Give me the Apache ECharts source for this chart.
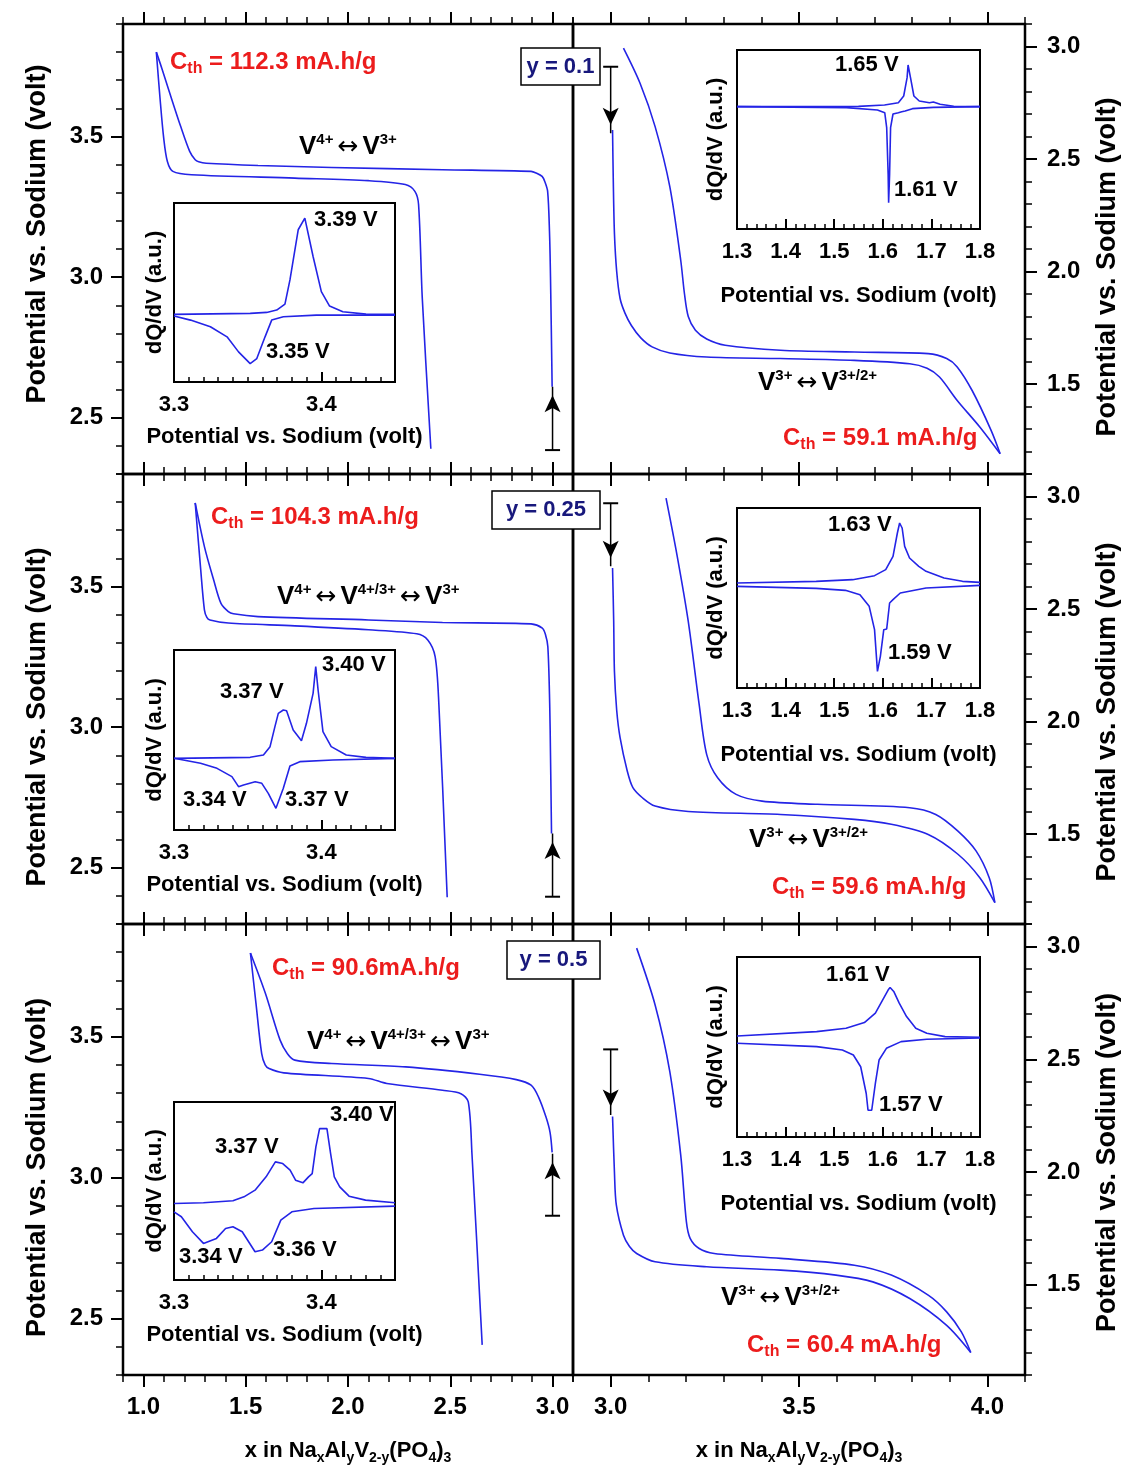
<!DOCTYPE html>
<html>
<head>
<meta charset="utf-8">
<script src="https://cdn.jsdelivr.net/npm/echarts@6.0.0/dist/echarts.min.js"></script>
<style>
  html, body { margin: 0; padding: 0; background: #fff; }
  #main { width: 1135px; height: 1471px; }
</style>
</head>
<body>
<div id="main"></div>
<script>
const FONT = '"Liberation Sans", Arial, Helvetica, sans-serif'
const BLUE = '#2424e6'
const RED = '#ec1c1c'
const NAVY = '#18187c'

// tick values
const highXTicks = [1.0, 1.5, 2.0, 2.5, 3.0]
const lowXTicks = [3.0, 3.5, 4.0]
const highVTicks = [2.5, 3.0, 3.5]
const lowVTicks = [1.5, 2.0, 2.5, 3.0]
const insetHighTicks = [3.3, 3.4]
const insetLowTicks = [1.3, 1.4, 1.5, 1.6, 1.7, 1.8]

// ---- y = 0.1 ----
const y01HighCharge = [[2.998, 2.61], [2.99, 3.0], [2.985, 3.163], [2.976, 3.305], [2.962, 3.34], [2.949, 3.358], [2.92, 3.37], [2.895, 3.376], [2.462, 3.382], [1.92, 3.39], [1.56, 3.397], [1.307, 3.405], [1.27, 3.41], [1.253, 3.417], [1.226, 3.447], [1.18, 3.54], [1.126, 3.66], [1.09, 3.742], [1.063, 3.80]]
const y01HighDischarge = [[1.063, 3.80], [1.081, 3.636], [1.099, 3.494], [1.117, 3.411], [1.144, 3.376], [1.235, 3.364], [1.74, 3.352], [2.10, 3.343], [2.28, 3.329], [2.327, 3.305], [2.345, 3.258], [2.363, 2.927], [2.405, 2.39]]
const y01LowDischarge = [[3.005, 2.629], [3.007, 2.4], [3.01, 2.17], [3.016, 2.0], [3.025, 1.88], [3.038, 1.815], [3.055, 1.76], [3.08, 1.705], [3.11, 1.665], [3.157, 1.638], [3.255, 1.62], [3.45, 1.613], [3.647, 1.605], [3.794, 1.59], [3.84, 1.57], [3.873, 1.531], [3.92, 1.427], [3.98, 1.309], [4.034, 1.19]]
const y01LowCharge = [[4.034, 1.19], [4.01, 1.294], [3.96, 1.47], [3.92, 1.576], [3.892, 1.613], [3.843, 1.635], [3.647, 1.642], [3.451, 1.65], [3.304, 1.672], [3.255, 1.70], [3.225, 1.739], [3.206, 1.80], [3.196, 1.9], [3.186, 2.05], [3.157, 2.377], [3.118, 2.644], [3.078, 2.837], [3.034, 2.993]]
const y01HighArrow = [[3.0, 2.385], [3.0, 2.61]]
const y01LowArrow = [[3.0, 2.91], [3.0, 2.614]]
const y01InsetHighCharge = [[3.3, 0], [3.3517, 0.03], [3.3629, 0.06], [3.3697, 0.13], [3.3753, 0.31], [3.3787, 1.03], [3.3843, 2.53], [3.3888, 2.88], [3.3944, 1.73], [3.40, 0.68], [3.4056, 0.25], [3.4146, 0.08], [3.4303, 0.01], [3.45, 0]]
const y01InsetHighDischarge = [[3.3, -0.05], [3.3112, -0.17], [3.3247, -0.37], [3.336, -0.67], [3.3438, -1.12], [3.3517, -1.47], [3.3562, -1.32], [3.3618, -0.67], [3.3663, -0.17], [3.3742, -0.07], [3.3966, -0.02], [3.45, -0.02]]
const y01InsetLowCharge = [[1.3, 0], [1.55, 0.01], [1.6036, 0.05], [1.632, 0.12], [1.643, 0.32], [1.65, 0.87], [1.652, 1.25], [1.657, 0.87], [1.664, 0.32], [1.675, 0.17], [1.696, 0.12], [1.704, 0.14], [1.718, 0.07], [1.746, 0.01], [1.8, 0]]
const y01InsetLowDischarge = [[1.3, 0], [1.525, -0.03], [1.589, -0.1], [1.604, -0.18], [1.608, -0.63], [1.611, -2.03], [1.612, -2.88], [1.614, -2.03], [1.616, -0.63], [1.621, -0.22], [1.632, -0.18], [1.639, -0.15], [1.646, -0.13], [1.661, -0.06], [1.704, -0.02], [1.8, 0]]

// ---- y = 0.25 ----
const y025HighCharge = [[2.995, 2.622], [2.99, 2.9], [2.986, 3.085], [2.977, 3.286], [2.965, 3.33], [2.95, 3.352], [2.895, 3.367], [2.462, 3.372], [2.10, 3.381], [1.56, 3.393], [1.44, 3.403], [1.415, 3.411], [1.379, 3.44], [1.343, 3.524], [1.298, 3.642], [1.253, 3.797]]
const y025HighDischarge = [[1.253, 3.797], [1.28, 3.559], [1.298, 3.417], [1.31, 3.39], [1.325, 3.381], [1.415, 3.37], [1.74, 3.36], [2.10, 3.346], [2.336, 3.332], [2.39, 3.31], [2.426, 3.251], [2.444, 3.085], [2.485, 2.395]]
const y025LowDischarge = [[3.005, 2.682], [3.008, 2.45], [3.01, 2.223], [3.016, 2.05], [3.025, 1.928], [3.044, 1.78], [3.059, 1.706], [3.085, 1.66], [3.118, 1.624], [3.206, 1.60], [3.451, 1.587], [3.647, 1.565], [3.745, 1.543], [3.843, 1.498], [3.922, 1.41], [3.98, 1.306], [4.02, 1.195]]
const y025LowCharge = [[4.02, 1.195], [4.005, 1.306], [3.97, 1.425], [3.922, 1.513], [3.863, 1.587], [3.794, 1.617], [3.549, 1.632], [3.402, 1.646], [3.333, 1.676], [3.284, 1.75], [3.255, 1.853], [3.235, 2.075], [3.206, 2.445], [3.176, 2.741], [3.147, 2.993]]
const y025HighArrow = [[3.0, 2.397], [3.0, 2.622]]
const y025LowArrow = [[3.0, 2.97], [3.0, 2.69]]
const y025InsetHighCharge = [[3.3, 0], [3.3517, 0.03], [3.3607, 0.10], [3.3652, 0.35], [3.3685, 0.95], [3.3708, 1.35], [3.3742, 1.45], [3.3764, 1.43], [3.3809, 0.85], [3.3865, 0.53], [3.3899, 1.05], [3.3944, 1.95], [3.3962, 2.75], [3.3978, 2.05], [3.4011, 0.80], [3.4067, 0.35], [3.4169, 0.10], [3.4303, 0.03], [3.45, 0]]
const y025InsetHighDischarge = [[3.3, 0], [3.318, -0.15], [3.3292, -0.30], [3.3393, -0.55], [3.3438, -0.85], [3.3472, -0.80], [3.3551, -0.70], [3.3596, -0.75], [3.364, -1.05], [3.3692, -1.50], [3.3742, -0.90], [3.3787, -0.23], [3.3854, -0.10], [3.4079, -0.05], [3.45, 0]]
const y025InsetLowCharge = [[1.3, 0.05], [1.463, 0.10], [1.538, 0.15], [1.583, 0.27], [1.606, 0.45], [1.621, 0.85], [1.630, 1.55], [1.6346, 1.85], [1.6398, 1.70], [1.645, 1.15], [1.655, 0.80], [1.674, 0.55], [1.689, 0.40], [1.726, 0.20], [1.764, 0.10], [1.8, 0.07]]
const y025InsetLowDischarge = [[1.3, -0.05], [1.463, -0.11], [1.523, -0.17], [1.553, -0.30], [1.572, -0.65], [1.583, -1.35], [1.589, -2.60], [1.595, -2.15], [1.602, -1.35], [1.608, -1.33], [1.614, -0.55], [1.617, -0.50], [1.621, -0.45], [1.636, -0.25], [1.689, -0.10], [1.8, -0.02]]

// ---- y = 0.5 ----
const y05HighCharge = [[2.998, 3.09], [2.988, 3.16], [2.968, 3.215], [2.931, 3.287], [2.895, 3.328], [2.823, 3.348], [2.643, 3.367], [2.282, 3.393], [1.92, 3.405], [1.74, 3.417], [1.704, 3.44], [1.668, 3.488], [1.596, 3.654], [1.523, 3.797]]
const y05HighDischarge = [[1.523, 3.797], [1.55, 3.619], [1.578, 3.44], [1.595, 3.40], [1.614, 3.387], [1.686, 3.372], [2.10, 3.352], [2.19, 3.334], [2.462, 3.31], [2.552, 3.298], [2.588, 3.269], [2.606, 3.085], [2.656, 2.407]]
const y05LowDischarge = [[3.005, 2.246], [3.01, 2.0], [3.015, 1.854], [3.034, 1.72], [3.05, 1.67], [3.069, 1.639], [3.118, 1.602], [3.255, 1.58], [3.451, 1.565], [3.598, 1.543], [3.696, 1.513], [3.794, 1.439], [3.892, 1.32], [3.956, 1.20]]
const y05LowCharge = [[3.956, 1.20], [3.931, 1.291], [3.892, 1.38], [3.843, 1.454], [3.745, 1.543], [3.647, 1.587], [3.451, 1.617], [3.275, 1.639], [3.235, 1.661], [3.211, 1.706], [3.201, 1.78], [3.186, 2.075], [3.157, 2.445], [3.118, 2.741], [3.069, 2.993]]
const y05HighArrow = [[3.0, 2.865], [3.0, 3.085]]
const y05LowArrow = [[3.0, 2.544], [3.0, 2.253]]
const y05InsetHighCharge = [[3.3, 0.05], [3.32, 0.07], [3.34, 0.13], [3.3475, 0.25], [3.355, 0.45], [3.3625, 0.85], [3.3688, 1.30], [3.3738, 1.25], [3.3788, 1.05], [3.3825, 0.75], [3.3875, 0.67], [3.3913, 0.85], [3.3938, 0.95], [3.3963, 1.75], [3.3988, 2.30], [3.4038, 2.30], [3.4063, 1.55], [3.4088, 0.85], [3.4125, 0.55], [3.4188, 0.27], [3.43, 0.15], [3.45, 0.07]]
const y05InsetHighDischarge = [[3.3, -0.20], [3.305, -0.35], [3.3125, -0.80], [3.32, -1.15], [3.3288, -1.00], [3.335, -0.70], [3.34, -0.65], [3.3463, -0.80], [3.355, -1.40], [3.36, -1.35], [3.3663, -1.10], [3.3725, -0.45], [3.38, -0.20], [3.395, -0.10], [3.45, -0.03]]
const y05InsetLowCharge = [[1.3, 0.07], [1.4639, 0.20], [1.5243, 0.30], [1.5621, 0.47], [1.5847, 0.75], [1.5998, 1.15], [1.6112, 1.45], [1.615, 1.52], [1.6225, 1.40], [1.6338, 1.05], [1.6489, 0.65], [1.6678, 0.30], [1.6905, 0.15], [1.7282, 0.05], [1.8, 0.03]]
const y05InsetLowDischarge = [[1.3, -0.15], [1.4639, -0.25], [1.5168, -0.35], [1.5394, -0.50], [1.5545, -0.85], [1.5659, -1.65], [1.5696, -2.15], [1.5772, -2.15], [1.5847, -1.35], [1.5923, -0.65], [1.6074, -0.30], [1.6376, -0.10], [1.6905, -0.03], [1.8, 0.01]]

// inset dQ/dV ranges (arbitrary units)
const insetHighRanges = [[-2.02, 3.33], [-2.15, 3.25], [-2.25, 3.10]]
const insetLowRanges = [[-3.67, 1.70], [-3.10, 2.30], [-2.95, 2.43]]

// annotation texts
const compositions = ['y = 0.1', 'y = 0.25', 'y = 0.5']
const capacities = [['112.3 mA.h/g', '59.1 mA.h/g'], ['104.3 mA.h/g', '59.6 mA.h/g'], ['90.6mA.h/g', '60.4 mA.h/g']]
const highRedox = [['4+', '3+'], ['4+', '4+/3+', '3+'], ['4+', '4+/3+', '3+']]
const lowRedox = ['3+', '3+/2+']
const peakTexts = [
  ['3.39 V', '3.35 V', '1.65 V', '1.61 V'],
  ['3.37 V', '3.40 V', '3.34 V', '3.37 V', '1.63 V', '1.59 V'],
  ['3.37 V', '3.40 V', '3.34 V', '3.36 V', '1.61 V', '1.57 V']
]

// ---- layout (pixels) ----
const rowTop = [24, 474, 924]
const rowH = [450, 450, 451]
const leftInsetTop = [203, 650, 1102]
const leftInsetH = [179, 180, 178]
const rightInsetTop = [50, 508, 957]
const rightInsetH = [179, 180, 180]
const nameShift = [[-15, 18], [18, 13], [18, 13]] // vertical shift of the big y names, px
const capacityPos = [[[170, 62], [783, 438]], [[211, 517], [772, 887]], [[272, 968], [747, 1345]]]
const highRedoxPos = [[299, 147], [277, 597], [307, 1042]]
const lowRedoxPos = [[758, 383], [749, 840], [721, 1298]]
const boxPos = [[521, 48, 79, 37], [492, 491, 108, 38], [507, 941, 93, 38]]
const peakPos = [
  [[314, 220], [266, 352], [835, 65], [894, 190]],
  [[220, 692], [322, 665], [183, 800], [285, 800], [828, 525], [888, 653]],
  [[215, 1147], [330, 1115], [179, 1257], [273, 1250], [826, 975], [879, 1105]]
]

const grid = []
const xAxis = []
const yAxis = []
const series = []
const graphic = []

const boldText = (size, extra) => Object.assign({ color: '#000', fontSize: size, fontWeight: 'bold', fontFamily: FONT }, extra || {})

function majorAxis (g, pos, min, max, ticks, o) {
  return {
    type: 'value', gridIndex: g, position: pos, min, max,
    axisLine: { show: false, onZero: false },
    splitLine: { show: false },
    axisTick: { show: true, inside: !!o.inside, length: o.len, customValues: ticks, lineStyle: { color: '#000', width: 2 } },
    axisLabel: Object.assign({ show: !!o.label, customValues: ticks, formatter: (v) => v.toFixed(1), margin: o.margin || 20 }, boldText(o.fontSize || 24))
  }
}

function minorAxis (g, pos, min, max, step, len, inside) {
  return {
    type: 'value', gridIndex: g, position: pos, min, max, interval: step,
    axisLine: { show: false, onZero: false },
    splitLine: { show: false },
    axisTick: { show: true, inside, length: len, lineStyle: { color: '#000', width: 1.5 } },
    axisLabel: { show: false }
  }
}

const xName = '{n|x in Na}{s|x}{n|Al}{s|y}{n|V}{s|2-y}{n|(PO}{s|4}{n|)}{s|3}'
const xNameRich = {
  n: { fontSize: 22, fontWeight: 'bold', fontFamily: FONT, color: '#000', lineHeight: 28, verticalAlign: 'middle' },
  s: { fontSize: 14, fontWeight: 'bold', fontFamily: FONT, color: '#000', lineHeight: 8, verticalAlign: 'bottom' }
}

function addLine (xi, yi, data, smooth) {
  series.push({
    type: 'line', xAxisIndex: xi, yAxisIndex: yi, data, smooth,
    showSymbol: false, symbol: 'none', silent: true,
    lineStyle: { color: BLUE, width: 1.6 }
  })
}

function addArrow (xi, yi, pts) {
  const up = pts[1][1] > pts[0][1]
  series.push({
    type: 'line', xAxisIndex: xi, yAxisIndex: yi, silent: true, showSymbol: true,
    lineStyle: { color: '#000', width: 1.5 },
    itemStyle: { color: '#000' },
    data: [
      { value: pts[0], symbol: 'rect', symbolSize: [15, 2] },
      { value: pts[1], symbol: 'arrow', symbolSize: [12, 17], symbolRotate: up ? 0 : 180, symbolOffset: [0, up ? '50%' : '-50%'] }
    ]
  })
}

// one of the six big panels; returns [xAxisIndex, yAxisIndex] for its curves
function addPanel (r, isHigh) {
  const g = grid.length
  grid.push({ left: isHigh ? 123 : 573, top: rowTop[r], width: isHigh ? 450 : 452, height: rowH[r], show: true, borderColor: '#000', borderWidth: 2.5 })
  const xr = isHigh ? [0.9, 3.1] : [2.9, 4.1]
  const yr = isHigh ? [2.3, 3.9] : [1.1, 3.1]
  const xi = xAxis.length
  const bottom = majorAxis(g, 'bottom', xr[0], xr[1], isHigh ? highXTicks : lowXTicks, { len: 12, label: r === 2, margin: 20 })
  if (r === 2) {
    Object.assign(bottom, { name: xName, nameLocation: 'middle', nameGap: 62, nameTextStyle: { rich: xNameRich } })
  }
  xAxis.push(bottom)
  xAxis.push(minorAxis(g, 'bottom', xr[0], xr[1], 0.1, 7, false))
  xAxis.push(majorAxis(g, 'top', xr[0], xr[1], isHigh ? highXTicks : lowXTicks, { len: 12 }))
  xAxis.push(minorAxis(g, 'top', xr[0], xr[1], 0.1, 7, false))
  const yi = yAxis.length
  const side = isHigh ? 'left' : 'right'
  const shift = nameShift[r][isHigh ? 0 : 1]
  const yMajor = majorAxis(g, side, yr[0], yr[1], isHigh ? highVTicks : lowVTicks, { len: 12, label: true, margin: isHigh ? 20 : 22 })
  Object.assign(yMajor, {
    name: 'Potential vs. Sodium (volt)', nameLocation: 'middle', nameRotate: 90,
    nameGap: isHigh ? 72 : 69,
    nameTextStyle: boldText(27, { padding: shift < 0 ? [0, 0, 0, -2 * shift] : [0, 2 * shift, 0, 0] })
  })
  yAxis.push(yMajor)
  yAxis.push(minorAxis(g, side, yr[0], yr[1], 0.1, 7, false))
  return [xi, yi]
}

function addInset (r, isHigh) {
  const g = grid.length
  grid.push({
    left: isHigh ? 174 : 737, top: isHigh ? leftInsetTop[r] : rightInsetTop[r],
    width: isHigh ? 221 : 243, height: isHigh ? leftInsetH[r] : rightInsetH[r],
    show: true, borderColor: '#000', borderWidth: 2, backgroundColor: '#fff'
  })
  const xr = isHigh ? [3.3, 3.45] : [1.3, 1.8]
  const yr = isHigh ? insetHighRanges[r] : insetLowRanges[r]
  const xi = xAxis.length
  const ax = majorAxis(g, 'bottom', xr[0], xr[1], isHigh ? insetHighTicks : insetLowTicks, { len: 10, inside: true, label: true, margin: 12, fontSize: 22 })
  Object.assign(ax, { name: 'Potential vs. Sodium (volt)', nameLocation: 'middle', nameGap: isHigh ? 44 : 56, nameTextStyle: boldText(22) })
  xAxis.push(ax)
  xAxis.push(minorAxis(g, 'bottom', xr[0], xr[1], isHigh ? 0.01 : 0.02, 5, true))
  const yi = yAxis.length
  yAxis.push({
    type: 'value', gridIndex: g, min: yr[0], max: yr[1], position: 'left',
    axisLine: { show: false, onZero: false }, axisTick: { show: false }, axisLabel: { show: false }, splitLine: { show: false },
    name: 'dQ/dV (a.u.)', nameLocation: 'middle', nameRotate: 90, nameGap: isHigh ? 8 : 10, nameTextStyle: boldText(22)
  })
  return [xi, yi]
}

const rowsData = [
  [y01HighCharge, y01HighDischarge, y01HighArrow, y01LowDischarge, y01LowCharge, y01LowArrow, y01InsetHighCharge, y01InsetHighDischarge, y01InsetLowCharge, y01InsetLowDischarge],
  [y025HighCharge, y025HighDischarge, y025HighArrow, y025LowDischarge, y025LowCharge, y025LowArrow, y025InsetHighCharge, y025InsetHighDischarge, y025InsetLowCharge, y025InsetLowDischarge],
  [y05HighCharge, y05HighDischarge, y05HighArrow, y05LowDischarge, y05LowCharge, y05LowArrow, y05InsetHighCharge, y05InsetHighDischarge, y05InsetLowCharge, y05InsetLowDischarge]
]

rowsData.forEach((d, r) => {
  const hi = addPanel(r, true)
  addLine(hi[0], hi[1], d[0], 0.3)
  addLine(hi[0], hi[1], d[1], 0.3)
  addArrow(hi[0], hi[1], d[2])
  const lo = addPanel(r, false)
  addLine(lo[0], lo[1], d[3], 0.3)
  addLine(lo[0], lo[1], d[4], 0.3)
  addArrow(lo[0], lo[1], d[5])
  const ih = addInset(r, true)
  addLine(ih[0], ih[1], d[6], false)
  addLine(ih[0], ih[1], d[7], false)
  const il = addInset(r, false)
  addLine(il[0], il[1], d[8], false)
  addLine(il[0], il[1], d[9], false)
})

// ---- text annotations ----
const capRich = {
  c: { fontSize: 24, fontWeight: 'bold', fontFamily: FONT, fill: RED, lineHeight: 30, verticalAlign: 'middle' },
  s: { fontSize: 16, fontWeight: 'bold', fontFamily: FONT, fill: RED, lineHeight: 6, verticalAlign: 'bottom' }
}
const redoxRich = {
  v: { fontSize: 26, fontWeight: 'bold', fontFamily: FONT, fill: '#000', lineHeight: 30, verticalAlign: 'middle' },
  p: { fontSize: 15, fontWeight: 'bold', fontFamily: FONT, fill: '#000', lineHeight: 14, verticalAlign: 'top' },
  a: { fontSize: 25, fontFamily: '"DejaVu Sans", sans-serif', fill: '#000', lineHeight: 30, verticalAlign: 'middle', padding: [0, 4, 0, 4] }
}
const redoxText = (parts) => parts.map((p) => '{v|V}{p|' + p + '}').join('{a|\u2194}')

function textAt (x, y, text, style) {
  graphic.push({ type: 'text', x, y, z: 100, silent: true, style: Object.assign({ text, align: 'left', verticalAlign: 'middle' }, style) })
}

for (let r = 0; r < 3; r++) {
  capacities[r].forEach((c, k) => {
    textAt(capacityPos[r][k][0], capacityPos[r][k][1], '{c|C}{s|th}{c| = ' + c + '}', { rich: capRich })
  })
  textAt(highRedoxPos[r][0], highRedoxPos[r][1], redoxText(highRedox[r]), { rich: redoxRich })
  textAt(lowRedoxPos[r][0], lowRedoxPos[r][1], redoxText(lowRedox), { rich: redoxRich })
  const b = boxPos[r]
  graphic.push({ type: 'rect', z: 100, silent: true, shape: { x: b[0], y: b[1], width: b[2], height: b[3] }, style: { fill: '#fff', stroke: '#000', lineWidth: 1.5 } })
  graphic.push({ type: 'text', z: 101, silent: true, x: b[0] + b[2] / 2, y: b[1] + b[3] / 2, style: { text: compositions[r], align: 'center', verticalAlign: 'middle', font: 'bold 22px ' + FONT, fill: NAVY } })
  peakTexts[r].forEach((t, k) => {
    textAt(peakPos[r][k][0], peakPos[r][k][1], t, { font: 'bold 22px ' + FONT, fill: '#000' })
  })
}

const chart = echarts.init(document.getElementById('main'))
chart.setOption({
  animation: false,
  backgroundColor: '#fff',
  grid,
  xAxis,
  yAxis,
  series,
  graphic
})
</script>
</body>
</html>
